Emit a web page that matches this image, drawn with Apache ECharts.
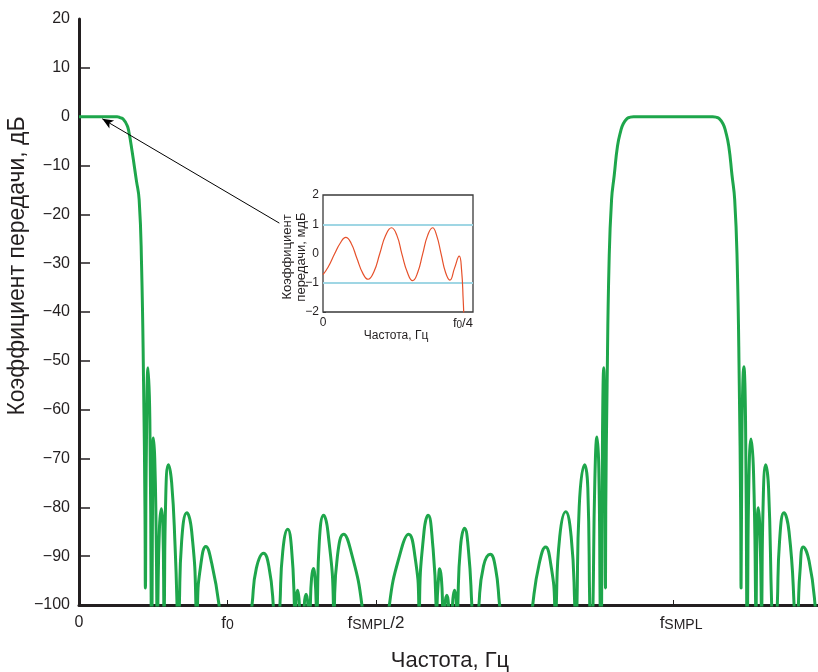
<!DOCTYPE html>
<html><head><meta charset="utf-8">
<script src="https://cdn.jsdelivr.net/npm/echarts@6/dist/echarts.min.js"></script>
<style>html,body{margin:0;padding:0;background:#fff}#c{width:818px;height:672px}</style>
</head><body><div id="c"></div>
<script>
// Frequencies are in units of f0 (f0 = 1, fSMPL/2 = 2, fSMPL = 4); gains in dB
const yTickValues = [20, 10, 0, -10, -20, -30, -40, -50, -60, -70, -80, -90, -100];
const xTickValues = [0, 1, 2, 4];
const xTickLabels = ['{n|0}', '{f|f}{s|0}', '{f|f}{s|SMPL}{f|/2}', '{g|f}{s|SMPL}'];

// Low-pass passband and its stopband side lobes
const lowBand = [
 [0,0],[0.256,0],[0.276,-0.2],[0.297,-0.5],[0.324,-1.8],[0.337,-3.3],[0.357,-7],[0.386,-13],[0.405,-17],[0.421,-30],[0.435,-55],[0.444,-80],[0.447,-96.5],
 [0.453,-70],[0.465,-51.4],[0.477,-62],[0.486,-100],[0.489,-112],
 [0.492,-100],[0.496,-75],[0.501,-65.8],[0.510,-70],[0.519,-84],[0.524,-100],[0.527,-112],
 [0.531,-100],[0.542,-84],[0.555,-80.3],[0.565,-84],[0.571,-100],[0.573,-112],
 [0.575,-100],[0.584,-78],[0.602,-71.3],[0.624,-75],[0.647,-88],[0.660,-100],[0.668,-115],
 [0.676,-100],[0.691,-87],[0.726,-81.1],[0.759,-85],[0.787,-100],[0.792,-115],
 [0.798,-100],[0.819,-92],[0.854,-88],[0.894,-91.5],[0.943,-100],[1.052,-130]
];
// Lobes around fSMPL/2
const midBand = [
 [1.165,-100],[1.194,-92.5],[1.243,-89.4],[1.278,-92],[1.308,-100],[1.330,-115],
 [1.353,-100],[1.372,-89],[1.406,-84.5],[1.430,-88],[1.450,-100],[1.455,-110],
 [1.460,-100],[1.472,-97],[1.484,-100],[1.500,-115],
 [1.517,-100],[1.529,-97.8],[1.541,-100],[1.550,-112],
 [1.558,-100],[1.566,-94.5],[1.578,-92.5],[1.589,-94.5],[1.597,-100],[1.600,-110],
 [1.605,-100],[1.618,-87],[1.647,-81.6],[1.676,-85],[1.713,-100],[1.716,-110],
 [1.720,-100],[1.740,-90],[1.782,-85.5],[1.827,-88.5],[1.905,-100],[2.0,-130],
 [2.090,-100],[2.171,-88.5],[2.219,-85.5],[2.262,-90],[2.288,-100],[2.291,-110],
 [2.293,-100],[2.323,-85],[2.351,-81.6],[2.380,-87],[2.404,-100],[2.407,-110],
 [2.411,-100],[2.421,-94.5],[2.429,-92.6],[2.440,-94.5],[2.448,-100],[2.456,-112],
 [2.465,-100],[2.477,-98],[2.488,-100],[2.502,-115],
 [2.515,-100],[2.529,-97],[2.541,-100],[2.546,-110],
 [2.551,-100],[2.569,-88],[2.596,-84.3],[2.623,-89],[2.645,-100],[2.669,-115],
 [2.693,-100],[2.724,-92],[2.769,-89.6],[2.805,-92.5],[2.832,-100],[2.943,-130]
];
// Image of the passband around fSMPL
const imageBand = [
 [3.055,-100],[3.099,-91.5],[3.142,-88.1],[3.176,-91.5],[3.203,-100],[3.208,-112],
 [3.214,-100],[3.237,-86],[3.277,-80.9],[3.314,-86],[3.338,-100],[3.346,-112],
 [3.353,-100],[3.368,-80],[3.405,-71.3],[3.426,-76],[3.439,-100],[3.450,-115],
 [3.461,-100],[3.473,-75],[3.488,-65.6],[3.500,-72],[3.509,-100],[3.513,-112],
 [3.519,-100],[3.525,-65],[3.533,-51.4],[3.540,-68],[3.545,-96.5],
 [3.547,-80],[3.556,-55],[3.569,-30],[3.586,-17],[3.604,-12],[3.626,-6],[3.647,-3],[3.664,-1.5],[3.690,-0.4],[3.712,-0.1],[3.734,0],
 [4.0,0],
 [4.267,0],[4.289,-0.1],[4.311,-0.4],[4.337,-1.5],[4.354,-3],[4.375,-6],[4.397,-12],[4.415,-17],[4.432,-30],[4.446,-55],[4.455,-80],[4.458,-96.5],
 [4.464,-65],[4.477,-51.2],[4.488,-62],[4.496,-100],[4.499,-112],
 [4.502,-100],[4.511,-74],[4.525,-66],[4.542,-73],[4.556,-100],[4.558,-110],
 [4.560,-100],[4.566,-84],[4.574,-80.1],[4.584,-84],[4.594,-100],[4.596,-110],
 [4.598,-100],[4.606,-80],[4.624,-71.3],[4.643,-76],[4.664,-100],[4.683,-115],
 [4.702,-100],[4.717,-87],[4.747,-81.1],[4.781,-85],[4.815,-100],[4.828,-115],
 [4.844,-100],[4.855,-93],[4.877,-88.1],[4.916,-91],[4.956,-100],[4.976,-112]
];
const xMax = 4.976;

// Inset: passband ripple, mdB
const rippleFreq = [0, 0.009, 0.021, 0.031, 0.0406, 0.050, 0.0605, 0.071, 0.0805, 0.091, 0.1015, 0.112, 0.1224, 0.132, 0.141, 0.151, 0.16, 0.169, 0.178, 0.187, 0.1958, 0.203, 0.211, 0.219, 0.2267, 0.235, 0.2434, 0.2476, 0.2505, 0.252, 0.2535];
const rippleGain = [-0.72, -0.47, 0, 0.36, 0.55, 0.36, -0.16, -0.67, -0.88, -0.62, 0, 0.62, 0.88, 0.62, -0.02, -0.66, -0.93, -0.66, -0.02, 0.62, 0.88, 0.62, -0.01, -0.65, -0.91, -0.5, -0.09, -0.57, -1.6, -2.3, -3];
const rippleLimits = [1, -1];
const insetYTicks = [2, 1, 0, -1, -2];
const insetXTickValues = [0, 0.25];
const insetXTickLabels = ['{n|0}', '{f|f}{s|0}{f|/4}'];

// Arrow from inset caption to passband (data coordinates)
const arrowFrom = [1.349, -21.8];
const arrowTo = [0.157, -0.45];

const FONT = 'Liberation Sans, Arial, Helvetica, sans-serif';
const INK = '#231f20';
const minus = v => (v < 0 ? '\u2212' + Math.abs(v) : String(v));

const chart = echarts.init(document.getElementById('c'), null, {renderer: 'canvas'});
chart.setOption({
  animation: false,
  backgroundColor: '#fff',
  textStyle: {fontFamily: FONT, color: INK},
  grid: [
    {left: 79, right: 0, top: 19, bottom: 67, containLabel: false},
    {left: 323, top: 195, width: 150, height: 117, show: true, backgroundColor: '#fff', borderColor: '#3a3a3a', borderWidth: 1.3, z: 5}
  ],
  xAxis: [
    {
      type: 'value', gridIndex: 0, min: 0, max: xMax,
      axisLine: {show: true, onZero: false, lineStyle: {color: INK, width: 3}},
      axisTick: {show: true, inside: true, length: 5, customValues: xTickValues.filter(v => v > 0), lineStyle: {color: INK, width: 1}},
      splitLine: {show: false},
      axisLabel: {
        show: true, margin: 10, customValues: xTickValues,
        formatter: v => xTickLabels[xTickValues.indexOf(v)] || '',
        rich: {
          n: {fontSize: 16, fontFamily: FONT, color: INK, padding: [0, 0, 4, 0]},
          f: {fontSize: 17, fontFamily: FONT, color: INK, padding: [0, 0, 4, 0]},
          g: {fontSize: 17, fontFamily: FONT, color: INK, padding: [0, 0, 4, 16]},
          s: {fontSize: 14, fontFamily: FONT, color: INK}
        }
      }
    },
    {
      type: 'value', gridIndex: 1, min: 0, max: 0.268,
      axisLine: {show: false},
      axisTick: {show: false},
      splitLine: {show: false},
      axisLabel: {
        show: true, margin: 5, customValues: insetXTickValues,
        formatter: v => insetXTickLabels[insetXTickValues.indexOf(v)] || '',
        rich: {
          n: {fontSize: 12, fontFamily: FONT, color: INK, padding: [0, 0, 3, 0]},
          f: {fontSize: 13, fontFamily: FONT, color: INK, padding: [0, 0, 3, 0]},
          s: {fontSize: 10, fontFamily: FONT, color: INK}
        }
      }
    }
  ],
  yAxis: [
    {
      type: 'value', gridIndex: 0, min: -100, max: 20, interval: 10,
      axisLine: {show: true, onZero: false, lineStyle: {color: INK, width: 3}},
      axisTick: {show: true, inside: true, length: 11, customValues: yTickValues.filter(v => v > -100 && v < 20), lineStyle: {color: INK, width: 1.5}},
      splitLine: {show: false},
      axisLabel: {show: true, margin: 9, fontSize: 16, fontFamily: FONT, color: INK, customValues: yTickValues, formatter: minus}
    },
    {
      type: 'value', gridIndex: 1, min: -2, max: 2, interval: 1,
      axisLine: {show: false},
      axisTick: {show: true, inside: true, length: 3, lineStyle: {color: '#3a3a3a', width: 1}},
      splitLine: {show: false},
      axisLabel: {show: true, margin: 4, fontSize: 12, fontFamily: FONT, color: INK, customValues: insetYTicks, formatter: minus}
    }
  ],
  series: [
    {
      type: 'line', xAxisIndex: 0, yAxisIndex: 0,
      data: lowBand.concat(midBand, imageBand),
      showSymbol: false, symbol: 'none', smooth: 0.5, clip: true,
      lineStyle: {color: '#1ea64b', width: 3},
      emphasis: {disabled: true}, silent: true
    },
    {
      type: 'line', xAxisIndex: 0, yAxisIndex: 0, z: 8,
      data: [], showSymbol: false, symbol: 'none', silent: true,
      markLine: {
        silent: true, animation: false,
        symbol: ['none', 'arrow'], symbolSize: [1, 11],
        lineStyle: {color: '#000', width: 1, type: 'solid'},
        itemStyle: {color: '#000'},
        label: {show: false}, emphasis: {disabled: true},
        data: [[{coord: arrowFrom, symbol: 'none'}, {coord: arrowTo, symbol: 'arrow', symbolSize: [7, 11]}]]
      }
    },
    {
      type: 'line', xAxisIndex: 1, yAxisIndex: 1, z: 6,
      data: rippleFreq.map((f, i) => [f, rippleGain[i]]),
      showSymbol: false, symbol: 'none', smooth: 0.5, clip: true,
      lineStyle: {color: '#e6502a', width: 1.2},
      emphasis: {disabled: true}, silent: true,
      markLine: {
        silent: true, animation: false, symbol: 'none',
        lineStyle: {color: '#9fd6e4', width: 2, type: 'solid'},
        label: {show: false}, emphasis: {disabled: true},
        data: rippleLimits.map(v => ({yAxis: v}))
      }
    }
  ],
  graphic: [
    {type: 'text', x: 450, y: 661, silent: true,
     style: {text: 'Частота, Гц', font: '22px ' + FONT, fill: INK, textAlign: 'center', textVerticalAlign: 'middle'}},
    {type: 'text', x: 18, y: 266, rotation: Math.PI / 2, silent: true,
     style: {text: 'Коэффициент передачи, дБ', font: '23px ' + FONT, fill: INK, textAlign: 'center', textVerticalAlign: 'middle'}},
    {type: 'text', x: 294, y: 257, rotation: Math.PI / 2, silent: true, z: 10,
     style: {text: 'Коэффициент\nпередачи, мдБ', font: '13px ' + FONT, lineHeight: 14, fill: INK, textAlign: 'center', textVerticalAlign: 'middle'}},
    {type: 'text', x: 396, y: 336, silent: true, z: 10,
     style: {text: 'Частота, Гц', font: '12px ' + FONT, fill: INK, textAlign: 'center', textVerticalAlign: 'middle'}}
  ]
});
</script>
</body></html>
